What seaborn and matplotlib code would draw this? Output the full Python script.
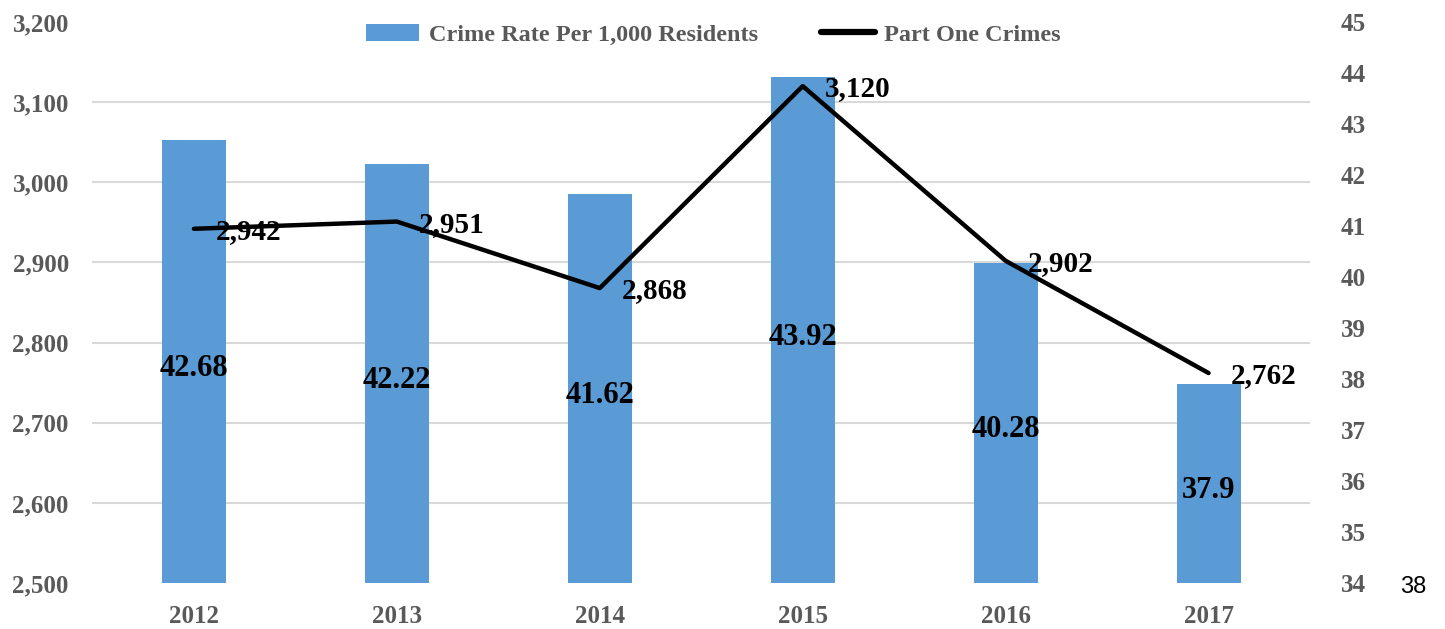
import numpy as np
import matplotlib
matplotlib.use("Agg")
import matplotlib.pyplot as plt
from matplotlib.patches import Patch
from matplotlib.lines import Line2D
import seaborn as sns

# data
years = ["2012", "2013", "2014", "2015", "2016", "2017"]
crime_rate = [42.68, 42.22, 41.62, 43.92, 40.28, 37.9]
part_one = [2942, 2951, 2868, 3120, 2902, 2762]
rate_labels = ["42.68", "42.22", "41.62", "43.92", "40.28", "37.9"]
count_labels = ["2,942", "2,951", "2,868", "3,120", "2,902", "2,762"]
left_ticks = [2500, 2600, 2700, 2800, 2900, 3000, 3100, 3200]
right_ticks = list(range(34, 46))

sns.set_style("white")
plt.rcParams['font.family'] = ['Liberation Serif', 'DejaVu Serif']
plt.rcParams['font.weight'] = 'bold'

bar_color = "#5B9BD5"
tick_grey = "#595959"
grid_grey = "#D9D9D9"

fig = plt.figure(figsize=(14.45, 6.29), dpi=100)
ax = fig.add_subplot(111)          # bars, right-hand scale
ax2 = ax.twinx()                   # line, left-hand scale
fig.subplots_adjust(left=0.064, right=0.9066, top=0.965, bottom=0.0731)

sns.barplot(x=years, y=crime_rate, ax=ax, color=bar_color, width=0.315,
            saturation=1, edgecolor="none")
ax.set_ylim(34, 45)
ax.set_xlim(-0.5, len(years) - 0.5)
ax.set_yticks(right_ticks)
ax.set_yticklabels([str(t) for t in right_ticks])
# gridlines belong to the left scale; draw them behind the bars
ax.set_yticks(np.linspace(34, 45, len(left_ticks)), minor=True)
ax.grid(False)
ax.grid(True, which="minor", axis="y", color=grid_grey, linewidth=1.5)
ax.set_axisbelow(True)
ax.tick_params(axis="x", length=0, labelsize=18, labelcolor=tick_grey, pad=16)
ax.set_xlabel("")
ax.set_ylabel("")

for i, lab in enumerate(rate_labels):
    ax.annotate(lab, (i, (crime_rate[i] + 34) / 2), xytext=(0, -5), textcoords="offset points",
                ha="center", va="center", fontsize=22, fontweight="bold", color="black")

pos = np.arange(len(years))
sns.lineplot(x=pos, y=part_one, ax=ax2, color="black", linewidth=3.2)
ax2.set_ylim(2500, 3200)
ax2.set_yticks(left_ticks)
ax2.set_yticklabels([f"{t:,}" for t in left_ticks])
ax2.set_ylabel("")

# swap sides: bar scale on the right, line scale on the left
ax.yaxis.tick_right()
ax2.yaxis.tick_left()
ax.tick_params(axis="y", which="both", length=0, labelsize=18, labelcolor=tick_grey, pad=22)
ax2.tick_params(axis="y", length=0, labelsize=18, labelcolor=tick_grey, pad=17)

for i, lab in enumerate(count_labels):
    ax2.annotate(lab, (pos[i], part_one[i]), xytext=(16, -2), textcoords="offset points",
                 ha="left", va="center", fontsize=21, fontweight="bold", color="black")

for a in (ax, ax2):
    for s in a.spines.values():
        s.set_visible(False)

handles = [Patch(facecolor=bar_color, edgecolor="none"),
           Line2D([0], [0], color="black", linewidth=4.5, solid_capstyle="round")]
leg = ax2.legend(handles, ["Crime Rate Per 1,000 Residents", "Part One Crimes"],
                 loc="upper center", bbox_to_anchor=(0.51, 1.014), ncol=2, frameon=False,
                 fontsize=17.5, handlelength=2.2, handleheight=0.7, columnspacing=2.6,
                 handletextpad=0.4, borderaxespad=0.0)
for t in leg.get_texts():
    t.set_color(tick_grey)

fig.text(1413 / 1445, 1 - 587 / 629, "38", ha="center", va="center",
         fontsize=17, family="Liberation Sans", fontweight="normal", color="black")

plt.savefig("out.png", dpi=100)
